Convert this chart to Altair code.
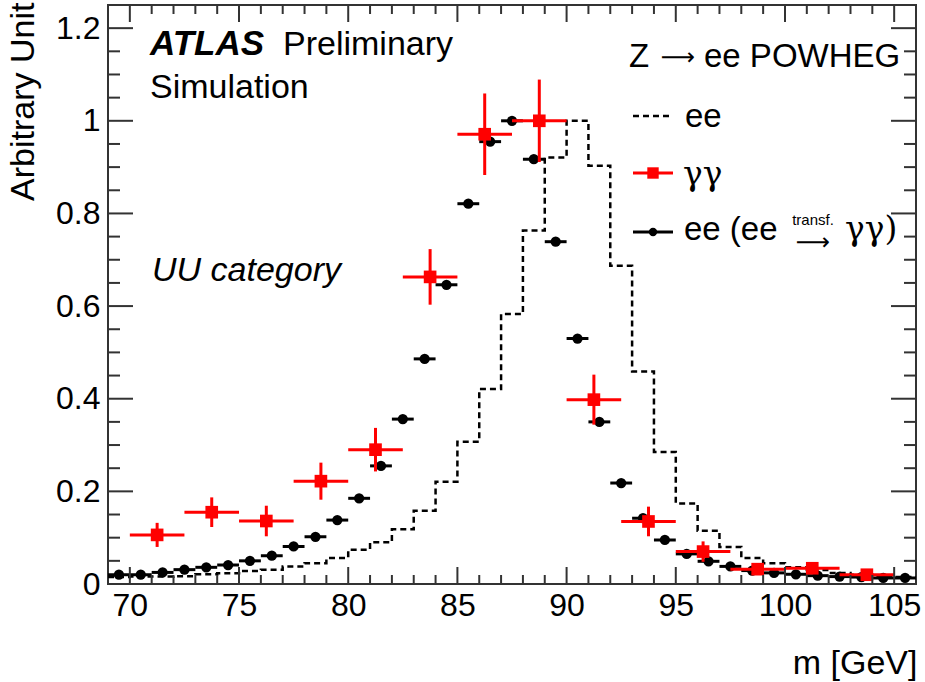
import altair as alt
import pandas as pd

FONT = "Liberation Sans"
SYM = "DejaVu Serif"
ARROW = "\u27f6"
W, H = 808, 579  # plot area in px

# ---- data -------------------------------------------------------------
# dashed "ee" histogram, 1 GeV bins from 69 to 106 GeV
ee_bin_lo = list(range(69, 106))
ee_hist = [0.015, 0.016, 0.016, 0.017, 0.021, 0.023, 0.028, 0.031, 0.038, 0.045,
           0.056, 0.074, 0.090, 0.118, 0.158, 0.221, 0.307, 0.421, 0.583, 0.763,
           0.921, 1.000, 0.903, 0.687, 0.459, 0.285, 0.174, 0.115, 0.080, 0.056,
           0.045, 0.036, 0.030, 0.024, 0.020, 0.017, 0.015]

# ee transformed to gamma-gamma, 1 GeV bins (centres 69.5 ... 105.5)
eet_center = [69.5 + i for i in range(37)]
eet_val = [0.020, 0.020, 0.025, 0.031, 0.036, 0.041, 0.050, 0.061, 0.081, 0.102,
           0.138, 0.185, 0.255, 0.356, 0.486, 0.646, 0.821, 0.955, 1.000, 0.917,
           0.739, 0.530, 0.350, 0.218, 0.142, 0.095, 0.065, 0.049, 0.038, 0.029,
           0.024, 0.021, 0.018, 0.016, 0.015, 0.013, 0.013]

# gamma-gamma, 2.5 GeV bins from 70 to 105 GeV
gg_center = [71.25 + 2.5 * i for i in range(14)]
gg_val = [0.106, 0.155, 0.136, 0.222, 0.290, 0.663, 0.971, 1.000, 0.398, 0.135,
          0.070, 0.032, 0.034, 0.020]
gg_err = [0.026, 0.032, 0.033, 0.040, 0.047, 0.060, 0.088, 0.089, 0.054, 0.032,
          0.022, 0.012, 0.010, 0.008]

x_major = [70, 75, 80, 85, 90, 95, 100, 105]
x_minor = [v for v in range(70, 106) if v % 5 != 0]
y_major = [0, 0.2, 0.4, 0.6, 0.8, 1.0, 1.2]
y_minor = [0.05, 0.1, 0.15, 0.25, 0.3, 0.35, 0.45, 0.5, 0.55, 0.65, 0.7, 0.75,
           0.85, 0.9, 0.95, 1.05, 1.1, 1.15]

# ---- tables -----------------------------------------------------------
hist_df = pd.DataFrame({"m": ee_bin_lo + [106], "v": ee_hist + [ee_hist[-1]]})
eet_df = pd.DataFrame({"m": eet_center, "v": eet_val})
eet_df["lo"] = eet_df["m"] - 0.5
eet_df["hi"] = eet_df["m"] + 0.5
gg_df = pd.DataFrame({"m": gg_center, "v": gg_val, "e": gg_err})
gg_df["lo"] = gg_df["m"] - 1.25
gg_df["hi"] = gg_df["m"] + 1.25
gg_df["vlo"] = gg_df["v"] - gg_df["e"]
gg_df["vhi"] = gg_df["v"] + gg_df["e"]

# ---- scales / axes ----------------------------------------------------
xscale = alt.Scale(domain=[69, 106], nice=False, zero=False)
yscale = alt.Scale(domain=[0, 1.25], nice=False, zero=False)
xaxis = alt.Axis(values=x_major, title="m [GeV]", grid=False, ticks=False, tickSize=0,
                 domain=False, labelFont=FONT, labelFontSize=32, labelColor="black",
                 labelPadding=6, labelFlush=False, labelOverlap=False,
                 titleFont=FONT, titleFontSize=34, titleFontWeight="normal",
                 titleColor="black", titleAlign="right", titleBaseline="alphabetic",
                 titleX=W + 1, titleY=89)
yaxis = alt.Axis(values=y_major, format="~g", title="Arbitrary Unit", grid=False,
                 ticks=False, tickSize=0, domain=False, labelFont=FONT,
                 labelFontSize=32, labelColor="black", labelPadding=8,
                 labelFlush=False, labelOverlap=False,
                 titleFont=FONT, titleFontSize=34, titleFontWeight="normal",
                 titleColor="black", titleAngle=270, titleAlign="right",
                 titleBaseline="alphabetic", titleX=-75, titleY=-3)


def X(field):
    return alt.X(field, type="quantitative", scale=xscale, axis=xaxis)


def X2(field):
    return alt.X2(field)


def Y(field):
    return alt.Y(field, type="quantitative", scale=yscale, axis=yaxis)


layers = []

# dashed ee histogram
layers.append(
    alt.Chart(hist_df).mark_line(interpolate="step-after", color="black",
                                 strokeWidth=2.5, strokeDash=[6, 4])
    .encode(x=X("m"), y=Y("v"))
)

# ee -> gamma-gamma points with horizontal bin-width bars
layers.append(
    alt.Chart(eet_df).mark_rule(color="black", strokeWidth=3)
    .encode(x=X("lo"), x2=X2("hi"), y=Y("v"))
)
layers.append(
    alt.Chart(eet_df).mark_circle(color="black", opacity=1, size=105)
    .encode(x=X("m"), y=Y("v"))
)

# gamma-gamma points with error bars
layers.append(
    alt.Chart(gg_df).mark_rule(color="#ff0000", strokeWidth=3)
    .encode(x=X("lo"), x2=X2("hi"), y=Y("v"))
)
layers.append(
    alt.Chart(gg_df).mark_rule(color="#ff0000", strokeWidth=3)
    .encode(x=X("m"), y=Y("vlo"), y2=alt.Y2("vhi"))
)
layers.append(
    alt.Chart(gg_df).mark_square(color="#ff0000", opacity=1, size=160)
    .encode(x=X("m"), y=Y("v"))
)

# inward-pointing ticks on all four sides
TICK = "#333333"
xmaj = pd.DataFrame({"t": x_major})
xmin = pd.DataFrame({"t": x_minor})
ymaj = pd.DataFrame({"t": y_major})
ymin = pd.DataFrame({"t": y_minor})
for df, length in ((xmaj, 17), (xmin, 9)):
    layers.append(alt.Chart(df).mark_rule(color=TICK, strokeWidth=2)
                  .encode(x=X("t"), y=alt.value(H), y2=alt.value(H - length)))
    layers.append(alt.Chart(df).mark_rule(color=TICK, strokeWidth=2)
                  .encode(x=X("t"), y=alt.value(0), y2=alt.value(length)))
for df, length in ((ymaj, 25), (ymin, 12)):
    layers.append(alt.Chart(df).mark_rule(color=TICK, strokeWidth=2)
                  .encode(y=Y("t"), x=alt.value(0), x2=alt.value(length)))
    layers.append(alt.Chart(df).mark_rule(color=TICK, strokeWidth=2)
                  .encode(y=Y("t"), x=alt.value(W), x2=alt.value(W - length)))


def label(text, x, y, size=34, weight="normal", style="normal", align="left",
          font=FONT, baseline="alphabetic"):
    return (alt.Chart(pd.DataFrame({"label": [text]}))
            .mark_text(font=font, fontSize=size, fontWeight=weight, fontStyle=style,
                       align=align, baseline=baseline, color="black")
            .encode(x=alt.value(x), y=alt.value(y), text="label:N"))


# header texts
layers.append(label("ATLAS", 42, 50, size=35, weight="bold", style="italic"))
layers.append(label("Preliminary", 175, 50))
layers.append(label("Simulation", 42, 93))
layers.append(label("UU category", 44, 276, style="italic"))
layers.append(label("Z", 521, 62, size=33))
layers.append(label(ARROW, 570, 53, size=24, align="center", font="DejaVu Sans",
                    baseline="middle"))
layers.append(label("ee POWHEG", 596, 62, size=33))

# legend
leg = pd.DataFrame({"k": [0]})
layers.append(alt.Chart(leg).mark_rule(color="black", strokeWidth=2.5, strokeDash=[6, 4])
              .encode(x=alt.value(525), x2=alt.value(563), y=alt.value(111)))
layers.append(label("ee", 577, 122, size=33))

layers.append(alt.Chart(leg).mark_rule(color="#ff0000", strokeWidth=3)
              .encode(x=alt.value(525), x2=alt.value(565), y=alt.value(168)))
layers.append(alt.Chart(leg).mark_square(color="#ff0000", opacity=1, size=130)
              .encode(x=alt.value(545), y=alt.value(168)))
layers.append(label("\u03b3\u03b3", 575, 180, size=33, font=SYM))

layers.append(alt.Chart(leg).mark_rule(color="black", strokeWidth=3)
              .encode(x=alt.value(525), x2=alt.value(565), y=alt.value(227)))
layers.append(alt.Chart(leg).mark_circle(color="black", opacity=1, size=70)
              .encode(x=alt.value(545), y=alt.value(227)))
layers.append(label("ee (ee", 576, 235, size=33))
layers.append(label(ARROW, 705, 238, size=24, align="center", font="DejaVu Sans",
                    baseline="middle"))
layers.append(label("transf.", 705, 220, size=15, align="center"))
layers.append(label("\u03b3\u03b3)", 737, 235, size=33, font=SYM))

chart = (
    alt.layer(*layers)
    .properties(width=W, height=H,
                autosize=alt.AutoSizeParams(type="none"),
                padding={"left": 108, "top": 5, "right": 9, "bottom": 98},
                background="white")
    .configure_view(stroke="#333333", strokeWidth=2)
)

chart.save("out.html", embed_options={"renderer": "svg", "actions": False})
